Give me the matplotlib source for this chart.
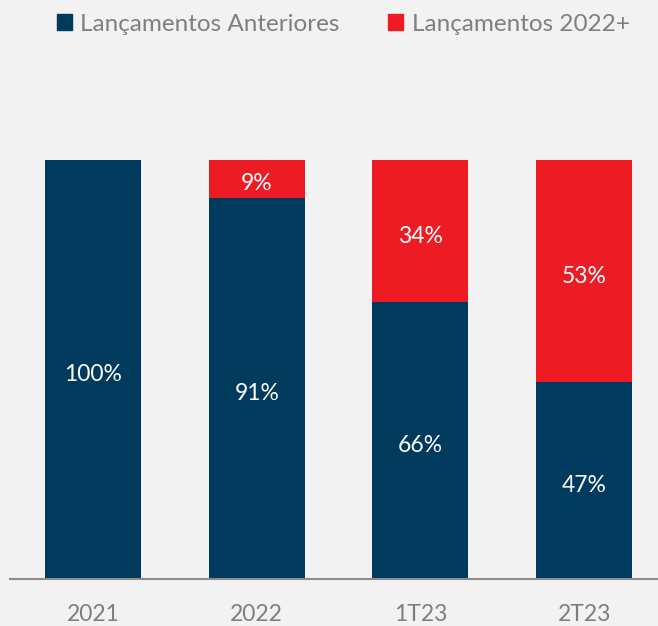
import matplotlib.pyplot as plt
from matplotlib.patches import Patch
from matplotlib.transforms import offset_copy

# data -----------------
categories = ["2021", "2022", "1T23", "2T23"]
anteriores = [100, 91, 66, 47]
novos = [0, 9, 34, 53]
series_names = ["Lançamentos Anteriores", "Lançamentos 2022+"]
# ----------------------

navy = "#003a5c"
red = "#ed1c24"
gray = "#7f7f7f"
bg = "#f2f2f2"

plt.rcParams["font.family"] = ["Lato", "DejaVu Sans"]

fig = plt.figure(figsize=(6.58, 6.26), dpi=100, facecolor=bg)
ax = fig.add_axes([10 / 658, 47 / 626, 648 / 658, 419 / 626], facecolor=bg)

x = list(range(len(categories)))
w = 0.586
ax.bar(x, anteriores, width=w, color=navy)
ax.bar(x, novos, width=w, bottom=anteriores, color=red)

# labels sit a few px below the segment middle, like in the original
lbl_tr = offset_copy(ax.transData, fig=fig, x=0, y=-5, units="dots")
for i in x:
    a = anteriores[i]
    n = novos[i]
    ax.text(i, a / 2, f"{a}%", ha="center", va="center", color="white",
            fontsize=16.5, transform=lbl_tr)
    if n > 0:
        ax.text(i, a + n / 2, f"{n}%", ha="center", va="center", color="white",
                fontsize=16.5, transform=lbl_tr)

ax.set_xlim(-0.507, 3.451)
ax.set_ylim(0, 100)
ax.set_xticks(x)
ax.set_xticklabels(categories, fontsize=16.5, color=gray)
ax.tick_params(axis="x", length=0, pad=18)
ax.set_yticks([])
for s in ["top", "right", "left"]:
    ax.spines[s].set_visible(False)
ax.spines["bottom"].set_color("#8c8c8c")
ax.spines["bottom"].set_linewidth(1.5)

handles = [Patch(color=navy), Patch(color=red)]
fig.legend(handles, series_names, loc="upper center", bbox_to_anchor=(0.522, 1.013),
           ncol=2, frameon=False, fontsize=17.5, labelcolor=gray,
           handlelength=0.6, handleheight=0.6, handletextpad=0.35, columnspacing=2.0)

fig.savefig("out.png", dpi=100, facecolor=bg)
